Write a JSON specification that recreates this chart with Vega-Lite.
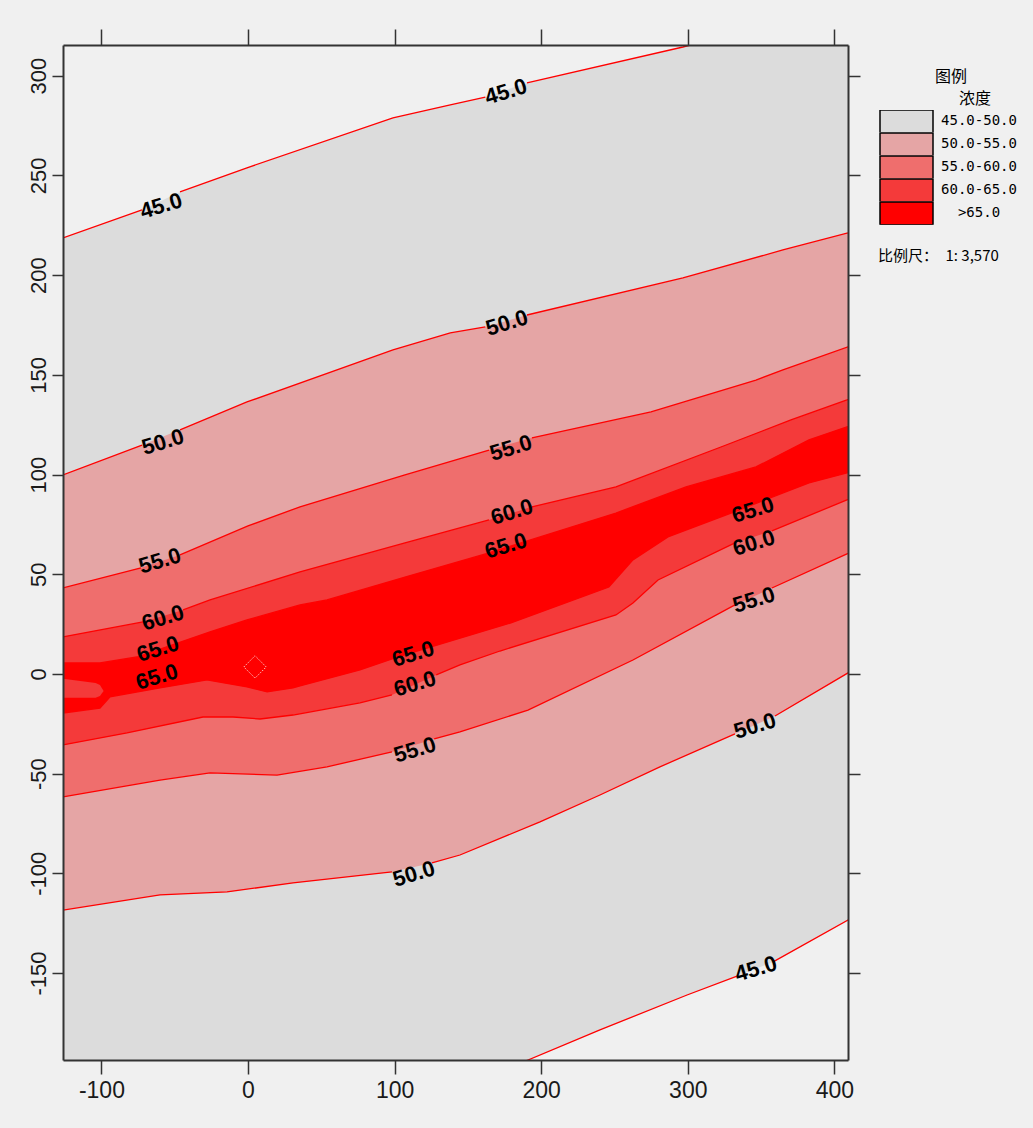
{
  "$schema": "https://vega.github.io/schema/vega-lite/v6.json",
  "width": 785,
  "height": 1015,
  "autosize": {"type": "none"},
  "padding": {"left": 63, "top": 45, "right": 185, "bottom": 68},
  "background": "#f0f0f0",
  "config": {"view": {"stroke": null}, "axis": {"grid": false}},
  "datasets": {
    "c": [
      {"line":"u45","seg":"u45a","x":-130,"y":217.7},{"line":"u45","seg":"u45a","x":-126.2,"y":218.7},{"line":"u45","seg":"u45a","x":-72.3,"y":232.7},
      {"line":"u45","seg":"u45b","x":-46.4,"y":241.7},{"line":"u45","seg":"u45b","x":-0.7,"y":253.8},{"line":"u45","seg":"u45b","x":98.9,"y":278.8},{"line":"u45","seg":"u45b","x":138.0,"y":285.4},{"line":"u45","seg":"u45b","x":161.9,"y":289.3},
      {"line":"u45","seg":"u45c","x":190.3,"y":296.4},{"line":"u45","seg":"u45c","x":296.7,"y":314.4},{"line":"u45","seg":"u45c","x":412,"y":336},

      {"line":"u50","seg":"u50a","x":-130,"y":98.8},{"line":"u50","seg":"u50a","x":-126.2,"y":99.8},{"line":"u50","seg":"u50a","x":-72.3,"y":114.8},
      {"line":"u50","seg":"u50b","x":-46.4,"y":122.4},{"line":"u50","seg":"u50b","x":-0.7,"y":136.4},{"line":"u50","seg":"u50b","x":98.9,"y":162.5},{"line":"u50","seg":"u50b","x":138.0,"y":171.0},{"line":"u50","seg":"u50b","x":161.9,"y":174.0},
      {"line":"u50","seg":"u50c","x":190.3,"y":180.0},{"line":"u50","seg":"u50c","x":296.7,"y":198.6},{"line":"u50","seg":"u50c","x":364.9,"y":212.6},{"line":"u50","seg":"u50c","x":409.3,"y":221.2},{"line":"u50","seg":"u50c","x":412,"y":221.8},

      {"line":"u55","seg":"u55a","x":-130,"y":42.1},{"line":"u55","seg":"u55a","x":-126.2,"y":43.1},{"line":"u55","seg":"u55a","x":-73.0,"y":53.2},
      {"line":"u55","seg":"u55b","x":-46.4,"y":59.7},{"line":"u55","seg":"u55b","x":0,"y":74.2},{"line":"u55","seg":"u55b","x":35.5,"y":83.8},{"line":"u55","seg":"u55b","x":107.1,"y":99.8},{"line":"u55","seg":"u55b","x":164.4,"y":112.3},
      {"line":"u55","seg":"u55c","x":193.7,"y":118.4},{"line":"u55","seg":"u55c","x":274.9,"y":131.4},{"line":"u55","seg":"u55c","x":346.5,"y":147.4},{"line":"u55","seg":"u55c","x":364.9,"y":152.5},{"line":"u55","seg":"u55c","x":409.3,"y":164.0},{"line":"u55","seg":"u55c","x":412,"y":164.5},

      {"line":"u60","seg":"u60a","x":-130,"y":18.0},{"line":"u60","seg":"u60a","x":-126.2,"y":18.6},{"line":"u60","seg":"u60a","x":-71.6,"y":26.1},
      {"line":"u60","seg":"u60b","x":-44.3,"y":32.1},{"line":"u60","seg":"u60b","x":-25.9,"y":37.1},{"line":"u60","seg":"u60b","x":35.5,"y":51.2},{"line":"u60","seg":"u60b","x":107.1,"y":65.7},{"line":"u60","seg":"u60b","x":164.4,"y":77.2},
      {"line":"u60","seg":"u60c","x":193.7,"y":83.8},{"line":"u60","seg":"u60c","x":251.0,"y":93.8},{"line":"u60","seg":"u60c","x":322.6,"y":113.8},{"line":"u60","seg":"u60c","x":370.4,"y":127.4},{"line":"u60","seg":"u60c","x":408.6,"y":137.4},{"line":"u60","seg":"u60c","x":412,"y":138.5},

      {"line":"u65","seg":"u65a","x":-130,"y":5.0},{"line":"u65","seg":"u65a","x":-126.2,"y":5.5},{"line":"u65","seg":"u65a","x":-101,"y":5.5},{"line":"u65","seg":"u65a","x":-75.7,"y":8.5},{"line":"u65","seg":"u65a","x":-25.9,"y":21.1},{"line":"u65","seg":"u65a","x":-0.7,"y":27.1},{"line":"u65","seg":"u65a","x":35.5,"y":34.6},{"line":"u65","seg":"u65a","x":53.9,"y":37.1},{"line":"u65","seg":"u65a","x":107.1,"y":48.6},{"line":"u65","seg":"u65a","x":164.4,"y":60.7},{"line":"u65","seg":"u65a","x":251.0,"y":80.7},{"line":"u65","seg":"u65a","x":298.8,"y":93.8},{"line":"u65","seg":"u65a","x":346.5,"y":103.8},{"line":"u65","seg":"u65a","x":382.7,"y":117.4},{"line":"u65","seg":"u65a","x":408.6,"y":123.9},{"line":"u65","seg":"u65a","x":412,"y":124.5},

      {"line":"l65","seg":"l65a","x":-130,"y":-19.8},{"line":"l65","seg":"l65a","x":-126.2,"y":-19.6},{"line":"l65","seg":"l65a","x":-101.0,"y":-17.1},{"line":"l65","seg":"l65a","x":-94.1,"y":-11.5},{"line":"l65","seg":"l65a","x":-60.0,"y":-7.0},{"line":"l65","seg":"l65a","x":-28.0,"y":-3.0},{"line":"l65","seg":"l65a","x":-0.7,"y":-6.5},{"line":"l65","seg":"l65a","x":13.0,"y":-9.0},{"line":"l65","seg":"l65a","x":30.7,"y":-7.0},{"line":"l65","seg":"l65a","x":35.5,"y":-6.0},{"line":"l65","seg":"l65a","x":76.4,"y":2.0},{"line":"l65","seg":"l65a","x":102.3,"y":8.5},{"line":"l65","seg":"l65a","x":179.4,"y":25.6},{"line":"l65","seg":"l65a","x":246.2,"y":43.6},{"line":"l65","seg":"l65a","x":262.6,"y":57.2},{"line":"l65","seg":"l65a","x":286.5,"y":68.7},{"line":"l65","seg":"l65a","x":334.9,"y":82.2},{"line":"l65","seg":"l65a","x":382.7,"y":95.8},{"line":"l65","seg":"l65a","x":408.6,"y":100.8},{"line":"l65","seg":"l65a","x":412,"y":101.5},

      {"line":"l60","seg":"l60a","x":-130,"y":-36.0},{"line":"l60","seg":"l60a","x":-126.2,"y":-35.6},{"line":"l60","seg":"l60a","x":-82.5,"y":-29.6},{"line":"l60","seg":"l60a","x":-30.7,"y":-21.6},{"line":"l60","seg":"l60a","x":-10.2,"y":-21.6},{"line":"l60","seg":"l60a","x":8.2,"y":-22.6},{"line":"l60","seg":"l60a","x":30.7,"y":-20.6},{"line":"l60","seg":"l60a","x":76.4,"y":-14.5},{"line":"l60","seg":"l60a","x":98.2,"y":-10.5},
      {"line":"l60","seg":"l60b","x":128.4,"y":-0.5},{"line":"l60","seg":"l60b","x":144.6,"y":4.5},{"line":"l60","seg":"l60b","x":171.9,"y":11.5},{"line":"l60","seg":"l60b","x":251.0,"y":29.6},{"line":"l60","seg":"l60b","x":262.6,"y":35.6},{"line":"l60","seg":"l60b","x":279.7,"y":47.1},{"line":"l60","seg":"l60b","x":332.2,"y":65.7},
      {"line":"l60","seg":"l60c","x":357.4,"y":71.7},{"line":"l60","seg":"l60c","x":408.6,"y":87.3},{"line":"l60","seg":"l60c","x":412,"y":88.3},

      {"line":"l55","seg":"l55a","x":-130,"y":-62.2},{"line":"l55","seg":"l55a","x":-126.2,"y":-61.7},{"line":"l55","seg":"l55a","x":-60.0,"y":-53.2},{"line":"l55","seg":"l55a","x":-25.9,"y":-49.6},{"line":"l55","seg":"l55a","x":19.8,"y":-50.7},{"line":"l55","seg":"l55a","x":53.9,"y":-46.6},{"line":"l55","seg":"l55a","x":98.2,"y":-39.1},
      {"line":"l55","seg":"l55b","x":127.0,"y":-32.6},{"line":"l55","seg":"l55b","x":144.6,"y":-29.1},{"line":"l55","seg":"l55b","x":191.0,"y":-18.1},{"line":"l55","seg":"l55b","x":262.6,"y":7.0},{"line":"l55","seg":"l55b","x":332.2,"y":34.6},
      {"line":"l55","seg":"l55c","x":357.4,"y":43.1},{"line":"l55","seg":"l55c","x":408.6,"y":60.2},{"line":"l55","seg":"l55c","x":412,"y":61.0},

      {"line":"l50","seg":"l50a","x":-130,"y":-119.0},{"line":"l50","seg":"l50a","x":-126.2,"y":-118.4},{"line":"l50","seg":"l50a","x":-60.0,"y":-110.8},{"line":"l50","seg":"l50a","x":-14.3,"y":-109.3},{"line":"l50","seg":"l50a","x":30.7,"y":-104.8},{"line":"l50","seg":"l50a","x":98.2,"y":-99.3},
      {"line":"l50","seg":"l50b","x":125.5,"y":-94.8},{"line":"l50","seg":"l50b","x":144.6,"y":-90.8},{"line":"l50","seg":"l50b","x":199.2,"y":-74.2},{"line":"l50","seg":"l50b","x":240.1,"y":-60.7},{"line":"l50","seg":"l50b","x":281.0,"y":-46.6},{"line":"l50","seg":"l50b","x":332.2,"y":-30.1},
      {"line":"l50","seg":"l50c","x":359.5,"y":-21.1},{"line":"l50","seg":"l50c","x":409.3,"y":0.5},{"line":"l50","seg":"l50c","x":412,"y":1.5},

      {"line":"l45","seg":"l45a","x":171.9,"y":-199.3},{"line":"l45","seg":"l45a","x":191.0,"y":-193.6},{"line":"l45","seg":"l45a","x":240.1,"y":-178.5},{"line":"l45","seg":"l45a","x":299.5,"y":-161.0},{"line":"l45","seg":"l45a","x":333.6,"y":-151.5},
      {"line":"l45","seg":"l45b","x":358.2,"y":-144.4},{"line":"l45","seg":"l45b","x":409.3,"y":-123.4},{"line":"l45","seg":"l45b","x":412,"y":-122.3}
    ],
    "t": [
      {"x":-130,"top":-2.0,"bottom":-12.0},
      {"x":-104,"top":-4.5,"bottom":-12.0},
      {"x":-101,"top":-5.5,"bottom":-11.0},
      {"x":-98.5,"top":-8.5,"bottom":-8.5}
    ],
    "lab": [
      {"x":-59.3,"y":234.7,"label":"45.0"},
      {"x":176.0,"y":291.9,"label":"45.0"},
      {"x":-58.0,"y":116.3,"label":"50.0"},
      {"x":176.7,"y":176.0,"label":"50.0"},
      {"x":-60.0,"y":56.7,"label":"55.0"},
      {"x":179.4,"y":113.3,"label":"55.0"},
      {"x":-58.0,"y":28.1,"label":"60.0"},
      {"x":180.1,"y":81.2,"label":"60.0"},
      {"x":-61.4,"y":12.5,"label":"65.0"},
      {"x":-62.1,"y":-1.5,"label":"65.0"},
      {"x":176.0,"y":64.2,"label":"65.0"},
      {"x":112.6,"y":10.0,"label":"65.0"},
      {"x":113.9,"y":-5.0,"label":"60.0"},
      {"x":113.9,"y":-38.1,"label":"55.0"},
      {"x":113.2,"y":-100.3,"label":"50.0"},
      {"x":344.5,"y":82.2,"label":"65.0"},
      {"x":345.2,"y":65.7,"label":"60.0"},
      {"x":345.2,"y":37.1,"label":"55.0"},
      {"x":345.8,"y":-26.1,"label":"50.0"},
      {"x":346.5,"y":-147.9,"label":"45.0"}
    ],
    "src": [
      {"x":4.8,"y":3.5,"note":"比例尺：\u30001: 3,570"}
    ]
  },
  "layer": [
    {
      "data": {"name": "c"},
      "encoding": {
        "x": {
          "field": "x", "type": "quantitative",
          "scale": {"domain": [-126.2, 409.3], "nice": false, "zero": false},
          "axis": {
            "orient": "bottom", "values": [-100, 0, 100, 200, 300, 400], "title": null,
            "labelExpr": "datum.value < 0 ? '-' + abs(datum.value) : '' + datum.value",
            "labelFont": "'Liberation Sans Narrow', 'Liberation Sans', sans-serif", "labelFontSize": 23,
            "labelColor": "#1a1a1a", "labelPadding": 5, "labelFlush": false, "labelOverlap": false,
            "tickSize": 14, "tickColor": "#333333", "tickWidth": 1.5,
            "domainColor": "#333333", "domainWidth": 2, "zindex": 1, "grid": false
          }
        },
        "y": {
          "field": "y", "type": "quantitative",
          "scale": {"domain": [-193.6, 315.4], "nice": false, "zero": false},
          "axis": {
            "orient": "left", "values": [-150, -100, -50, 0, 50, 100, 150, 200, 250, 300], "title": null,
            "labelExpr": "datum.value < 0 ? '-' + abs(datum.value) : '' + datum.value",
            "labelAngle": 270, "labelAlign": "center", "labelBaseline": "bottom",
            "labelFont": "'Liberation Sans', sans-serif", "labelFontSize": 22,
            "labelColor": "#1a1a1a", "labelPadding": 2, "labelFlush": false, "labelOverlap": false,
            "tickSize": 11, "tickColor": "#333333", "tickWidth": 1.5,
            "domainColor": "#333333", "domainWidth": 2, "zindex": 1, "grid": false
          }
        }
      },
      "layer": [
        {
          "transform": [{"filter": "datum.line === 'u45'"}],
          "mark": {"type": "area", "clip": true, "opacity": 1},
          "encoding": {
            "y2": {"datum": -200},
            "color": {
              "datum": "45.0-50.0",
              "scale": {
                "domain": ["45.0-50.0", "50.0-55.0", "55.0-60.0", "60.0-65.0", ">65.0"],
                "range": ["#dcdcdc", "#e5a5a5", "#ef6e6d", "#f43a3a", "#ff0000"]
              },
              "legend": {
                "orient": "none", "legendX": 816, "legendY": 24, "padding": 0,
                "title": ["\u200b\u3000\u3000\u3000\u2002图例", "\u200b\u3000\u3000\u3000\u3000\u3000浓度"],
                "titleFont": "Noto Sans CJK SC", "titleFontSize": 16, "titleFontWeight": "normal",
                "titleColor": "#000000", "titleAlign": "left", "titleAnchor": "start",
                "titleLineHeight": 22, "titlePadding": 3, "titleLimit": 300,
                "symbolType": "M-1,-0.43H1V0.43H-1Z", "symbolSize": 2809,
                "symbolStrokeColor": "#000000", "symbolStrokeWidth": 1.5, "symbolOpacity": 1,
                "clipHeight": 22.7, "rowPadding": 0,
                "labelAlign": "center", "labelOffset": 45,
                "labelFont": "'DejaVu Sans Mono', monospace", "labelFontSize": 14, "labelColor": "#000000", "labelLimit": 200
              }
            }
          }
        },
        {
          "transform": [{"filter": "datum.line === 'u50'"}],
          "mark": {"type": "area", "clip": true, "opacity": 1},
          "encoding": {"y2": {"datum": -200}, "color": {"datum": "50.0-55.0"}}
        },
        {
          "transform": [{"filter": "datum.line === 'u55'"}],
          "mark": {"type": "area", "clip": true, "opacity": 1},
          "encoding": {"y2": {"datum": -200}, "color": {"datum": "55.0-60.0"}}
        },
        {
          "transform": [{"filter": "datum.line === 'u60'"}],
          "mark": {"type": "area", "clip": true, "opacity": 1},
          "encoding": {"y2": {"datum": -200}, "color": {"datum": "60.0-65.0"}}
        },
        {
          "transform": [{"filter": "datum.line === 'u65'"}],
          "mark": {"type": "area", "clip": true, "opacity": 1},
          "encoding": {"y2": {"datum": -200}, "color": {"datum": ">65.0"}}
        },
        {
          "data": {"name": "t"},
          "mark": {"type": "area", "clip": true, "opacity": 1},
          "encoding": {
            "y": {"field": "top", "type": "quantitative"},
            "y2": {"field": "bottom"},
            "color": {"datum": "60.0-65.0"}
          }
        },
        {
          "transform": [{"filter": "datum.line === 'l65'"}],
          "mark": {"type": "area", "clip": true, "opacity": 1},
          "encoding": {"y2": {"datum": -200}, "color": {"datum": "60.0-65.0"}}
        },
        {
          "transform": [{"filter": "datum.line === 'l60'"}],
          "mark": {"type": "area", "clip": true, "opacity": 1},
          "encoding": {"y2": {"datum": -200}, "color": {"datum": "55.0-60.0"}}
        },
        {
          "transform": [{"filter": "datum.line === 'l55'"}],
          "mark": {"type": "area", "clip": true, "opacity": 1},
          "encoding": {"y2": {"datum": -200}, "color": {"datum": "50.0-55.0"}}
        },
        {
          "transform": [{"filter": "datum.line === 'l50'"}],
          "mark": {"type": "area", "clip": true, "opacity": 1},
          "encoding": {"y2": {"datum": -200}, "color": {"datum": "45.0-50.0"}}
        },
        {
          "transform": [{"filter": "datum.line === 'l45'"}],
          "mark": {"type": "area", "clip": true, "opacity": 1, "color": "#f0f0f0"},
          "encoding": {"y2": {"datum": -200}}
        },
        {
          "mark": {"type": "line", "clip": true, "color": "#ff0000", "strokeWidth": 1.3},
          "encoding": {"detail": {"field": "seg"}}
        },
        {
          "data": {"name": "lab"},
          "mark": {
            "type": "text", "angle": 343, "align": "center", "baseline": "middle",
            "font": "'Liberation Sans Narrow', 'Liberation Sans', sans-serif",
            "fontSize": 22, "fontWeight": "bold", "color": "#000000"
          },
          "encoding": {"text": {"field": "label"}}
        }
      ]
    },
    {
      "data": {"name": "src"},
      "mark": {"type": "point", "filled": false, "stroke": "#ffe0e0", "strokeWidth": 1, "strokeDash": [1.5, 1.5], "size": 500, "opacity": 0.9},
      "encoding": {
        "x": {
          "field": "x", "type": "quantitative",
          "scale": {"domain": [-126.2, 409.3], "nice": false, "zero": false},
          "axis": {
            "orient": "top", "values": [-100, 0, 100, 200, 300, 400], "title": null, "labels": false,
            "tickSize": 16, "tickColor": "#333333", "tickWidth": 1.5,
            "domainColor": "#333333", "domainWidth": 2, "zindex": 1, "grid": false
          }
        },
        "y": {
          "field": "y", "type": "quantitative",
          "scale": {"domain": [-193.6, 315.4], "nice": false, "zero": false},
          "axis": {
            "orient": "right", "values": [-150, -100, -50, 0, 50, 100, 150, 200, 250, 300], "title": null, "labels": false,
            "tickSize": 12, "tickColor": "#333333", "tickWidth": 1.5,
            "domainColor": "#333333", "domainWidth": 2, "zindex": 1, "grid": false
          }
        },
        "shape": {
          "field": "note", "type": "nominal",
          "scale": {"range": ["diamond"]},
          "legend": {
            "orient": "none", "legendX": 800, "legendY": 203, "padding": 0, "title": null,
            "symbolSize": 1, "symbolOpacity": 0, "symbolStrokeWidth": 0, "labelOffset": 0,
            "labelFont": "Noto Sans CJK SC", "labelFontSize": 15, "labelColor": "#000000", "labelLimit": 300
          }
        }
      }
    }
  ],
  "resolve": {"axis": {"x": "independent", "y": "independent"}}
}
